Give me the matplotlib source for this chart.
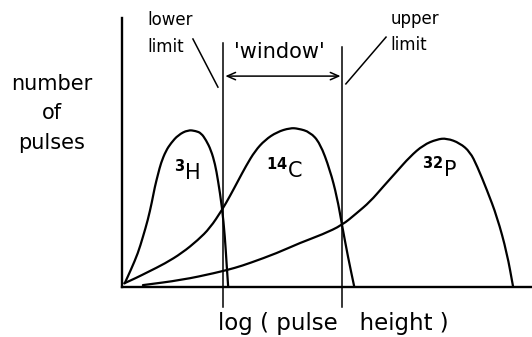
import numpy as np
import matplotlib
matplotlib.use("Agg")
import matplotlib.pyplot as plt
from matplotlib.path import Path
from matplotlib.patches import PathPatch

plt.rcParams['font.family'] = ['DejaVu Sans']
plt.rcParams['mathtext.fontset'] = 'dejavusans'

# pulse height spectra (log pulse height, counts), arbitrary units
h3_x = [0.66, 2.2, 3.9, 5.1, 6.3, 7.3, 8.0, 8.8, 9.5, 10.7, 11.95, 13.7, 16.1, 18.0,
        19.3, 20.5, 21.7, 22.7, 23.4, 24.4, 25.1, 25.5, 25.9]
h3_y = [1.38, 6.5, 12.6, 18.6, 24.9, 31.6, 37.2, 42.0, 46.1, 50.6, 53.5, 56.5, 58.4, 58.0,
        57.2, 54.6, 50.9, 45.7, 39.8, 29.7, 18.6, 8.9, 0.0]

c14_x = [0.56, 3.41, 6.34, 10.49, 14.63, 18.54, 21.46, 24.39, 26.34, 28.29, 30.24, 32.44,
         34.88, 37.80, 40.98, 42.93, 45.85, 48.29, 50.73, 52.44, 53.66, 55.12, 56.66]
c14_y = [1.38, 3.35, 5.58, 8.74, 12.64, 17.47, 21.93, 28.62, 33.83, 39.41, 44.98, 50.56,
         54.65, 57.62, 59.11, 58.92, 57.62, 53.53, 43.49, 33.46, 23.05, 11.15, 0.0]

p32_x = [5.1, 14.6, 22.7, 27.6, 31.2, 37.8, 43.4, 49.0, 53.7, 57.2, 60.5, 63.7, 67.0,
         70.2, 73.5, 76.8, 79.2, 82.4, 84.9, 86.6, 89.0, 91.5, 93.9, 95.4]
p32_y = [0.7, 2.6, 5.2, 7.1, 8.9, 12.6, 16.4, 19.6, 23.0, 27.4, 31.7, 37.3, 42.9,
         48.4, 52.8, 54.9, 55.3, 53.5, 50.2, 45.0, 36.1, 26.0, 12.6, 0.0]

labels = [r'$^{\mathbf{3}}$H', r'$^{\mathbf{14}}$C', r'$^{\mathbf{32}}$P']
label_x = [16.0, 39.5, 77.5]
label_y = [43.0, 43.5, 44.0]

lower_limit = 24.6
upper_limit = 53.7


def smooth_path(xs, ys):
    # quadratic B-spline: the points are the control polygon, joined at midpoints
    p = np.column_stack([xs, ys]).astype(float)
    mid = (p[:-1] + p[1:]) / 2
    verts = [p[0], mid[0]]
    codes = [Path.MOVETO, Path.LINETO]
    for i in range(1, len(p) - 1):
        verts += [p[i], mid[i]]
        codes += [Path.CURVE3, Path.CURVE3]
    verts.append(p[-1])
    codes.append(Path.LINETO)
    return Path(verts, codes)


W, H = 532, 337
fig = plt.figure(figsize=(W / 100, H / 100), dpi=100)
ax = fig.add_axes([122 / W, (H - 287) / H, (W - 122) / W, (287 - 18) / H])
ax.set_xlim(0, 100)
ax.set_ylim(0, 100)

for s in ['top', 'right']:
    ax.spines[s].set_visible(False)
for s in ['left', 'bottom']:
    ax.spines[s].set_linewidth(1.7)
ax.set_xticks([])
ax.set_yticks([])

for xs, ys in [(h3_x, h3_y), (c14_x, c14_y), (p32_x, p32_y)]:
    ax.add_patch(PathPatch(smooth_path(xs, ys), facecolor='none', edgecolor='black',
                           lw=1.6, joinstyle='round', capstyle='round'))

for lx, ly, lab in zip(label_x, label_y, labels):
    ax.text(lx, ly, lab, fontsize=15, ha='center', va='center')

# discriminator settings
ax.plot([lower_limit, lower_limit], [-7.4, 90.7], color='black', lw=1.1, clip_on=False)
ax.plot([upper_limit, upper_limit], [-7.4, 89.2], color='black', lw=1.1, clip_on=False)
ax.annotate('', xy=(lower_limit + 0.6, 78.4), xytext=(upper_limit - 0.4, 78.4),
            arrowprops=dict(arrowstyle='<->, head_length=0.5, head_width=0.22',
                            color='black', lw=1.1, mutation_scale=12,
                            shrinkA=0, shrinkB=0))
ax.text((lower_limit + upper_limit) / 2 - 0.8, 87.5, "'window'", fontsize=15,
        ha='center', va='center')

ax.plot([17.3, 23.4], [92.2, 74.3], color='black', lw=1.1, clip_on=False)
ax.plot([64.4, 54.6], [92.9, 75.5], color='black', lw=1.1, clip_on=False)
ax.text(6.1, 99.3, 'lower', fontsize=12, ha='left', va='center')
ax.text(6.1, 89.2, 'limit', fontsize=12, ha='left', va='center')
ax.text(65.4, 99.6, 'upper', fontsize=12, ha='left', va='center')
ax.text(65.4, 90.0, 'limit', fontsize=12, ha='left', va='center')

ax.set_xlabel('log ( pulse   height )', fontsize=16.5, va='center')
ax.xaxis.set_label_coords(0.515, -0.134)
ax.set_ylabel('number\nof\npulses', fontsize=15, rotation=0, ha='center', va='center',
              linespacing=1.6)
ax.yaxis.set_label_coords(-0.172, 0.645)

fig.savefig('out.png', dpi=100)
